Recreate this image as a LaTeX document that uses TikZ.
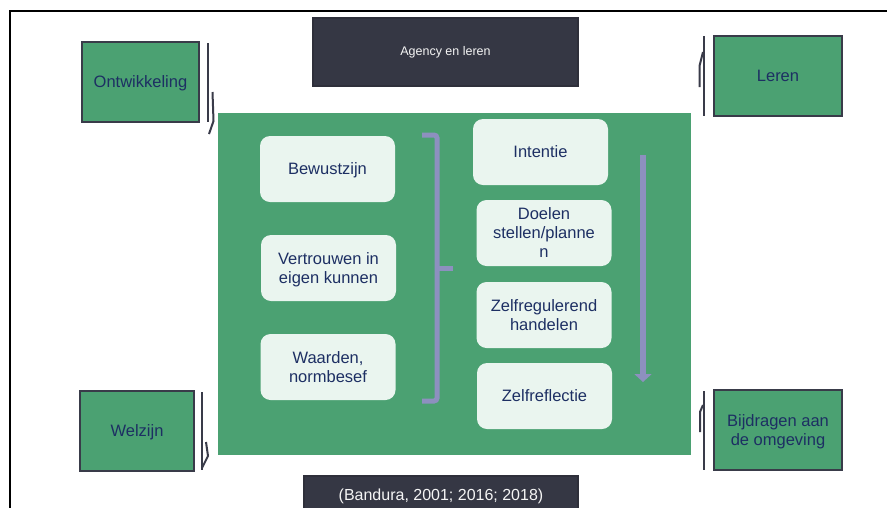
\documentclass[tikz,border=0pt]{standalone}
\usepackage{fontspec}
\setmainfont{Liberation Sans}
\usetikzlibrary{arrows.meta}
\definecolor{grn}{HTML}{4BA172}
\definecolor{edge}{HTML}{393B49}
\definecolor{darkbox}{HTML}{353744}
\definecolor{navy}{HTML}{1D2F63}
\definecolor{mint}{HTML}{EAF5EF}
\definecolor{lav}{HTML}{8D90BF}
\tikzset{
  corner/.style={draw=edge, line width=2pt, fill=grn, text=navy, align=center,
    font=\fontsize{16.5}{18.5}\selectfont, inner sep=0pt, text depth=0pt},
  inbox/.style={fill=mint, rounded corners=10pt, text=navy, align=center,
    font=\fontsize{16.5}{19}\selectfont, inner sep=0pt, text depth=0pt,
    minimum width=135pt, minimum height=66pt},
  darkrect/.style={draw=edge!80!black, line width=1.5pt, fill=darkbox, text=white!92!gray, inner sep=0pt},
  hook/.style={draw=edge, line width=2pt},
  lavline/.style={draw=lav, line width=5pt}
}
\begin{document}
\begin{tikzpicture}[x=1pt,y=-1pt]
\useasboundingbox (0,0) rectangle (887,507);
\clip (0,0) rectangle (887,507);
\fill[white] (0,0) rectangle (887,507);
% frame
\draw[line width=2.5pt, black] (10,508) -- (10,11) -- (888,11);
% title
\node[darkrect, minimum width=265pt, minimum height=68pt, font=\fontsize{12.5}{15}\selectfont] (agency) at (445.5,52) {Agency en leren};
% main green
\node[fill=grn, minimum width=473pt, minimum height=342pt, inner sep=0pt] (main) at (454.5,284) {};
% corner boxes
\node[corner, minimum width=117pt, minimum height=80pt] (ontw) at (140.5,82) {Ontwikkeling};
\node[corner, minimum width=128pt, minimum height=80pt] (leren) at (778,76) {Leren};
\node[corner, minimum width=114pt, minimum height=80pt] (welz) at (137,431) {Welzijn};
\node[corner, minimum width=128pt, minimum height=80pt] (bijd) at (778,430) {Bijdragen aan\\de omgeving};
% hooks
\coordinate (o1) at (208,43); \coordinate (o2) at (208,122);
\draw[hook] (o1) -- (o2);
\draw[hook] (212.5,92) -- (213.5,121) -- (209,134);
\draw[hook] (704,36) -- (704,116);
\draw[hook] (699.5,87) -- (699.5,66) -- (703,52);
\draw[hook] (202,392) -- (202,470);
\draw[hook] (206,442) -- (208,456) -- (202,468);
\draw[hook] (704,391) -- (704,470);
\draw[hook] (700,432) -- (700,412) -- (703,405);
% inner boxes left
\node[inbox] (bew) at (327.5,169) {Bewustzijn};
\node[inbox] (vert) at (328.5,268) {Vertrouwen in\\eigen kunnen};
\node[inbox] (waar) at (328,367) {Waarden,\\normbesef};
% inner boxes right
\node[inbox] (int) at (540.5,152) {Intentie};
\node[inbox] (doel) at (544,233) {Doelen\\stellen/planne\\n};
\node[inbox] (zelfr) at (544,315) {Zelfregulerend\\handelen};
\node[inbox] (zelff) at (544.5,396) {Zelfreflectie};
% bracket
\draw[lavline, rounded corners=3pt] (422,135) -- (437,135) -- (437,401) -- (422,401);
\draw[lavline] (437,268) -- (453,268);
% arrow
\coordinate (a1) at (643,155);
\coordinate (a2) at (643,382);
\draw[draw=lav, line width=6pt, -{Triangle[width=17pt,length=8pt]}] (a1) -- (a2);
% citation
\node[darkrect, minimum width=274pt, minimum height=40pt, font=\fontsize{16}{19}\selectfont] (cite) at (441,496) {(Bandura, 2001; 2016; 2018)};
\end{tikzpicture}
\end{document}
